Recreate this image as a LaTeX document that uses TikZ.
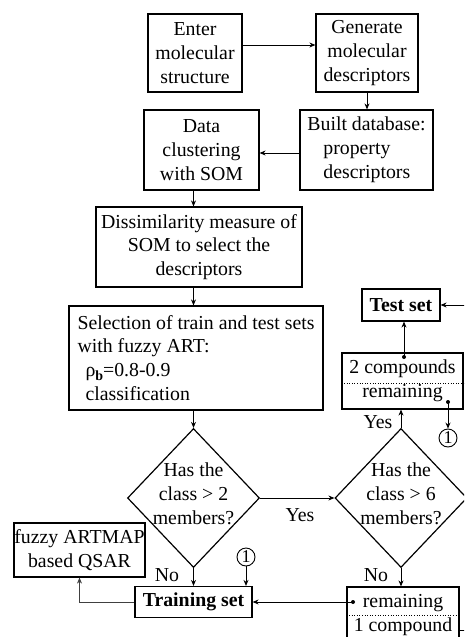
\documentclass[tikz,border=0pt]{standalone}
\usepackage{fontspec}
\setmainfont{Liberation Serif}
\usetikzlibrary{shapes.geometric,arrows.meta,calc}
\newcommand{\fsz}{\fontsize{19.8}{23.8}\selectfont}
\tikzset{
  box/.style={draw, line width=1.2pt, align=center, inner sep=0pt, font=\fsz},
  lbl/.style={inner sep=0pt, font=\fsz},
  dia/.style={draw, line width=1.2pt, diamond, inner sep=0pt, align=center, font=\fsz},
  circ/.style={draw, line width=0.9pt, circle, inner sep=0pt, minimum size=18pt, font=\fontsize{18}{18}\selectfont},
  arr/.style={line width=0.8pt, -{Stealth[length=6pt,width=5pt]}},
  ln/.style={line width=0.8pt},
  sep/.style={line width=0.6pt, dotted},
  dotp/.style={fill=black}
}
\begin{document}
\begin{tikzpicture}[x=1pt,y=-1pt]
\useasboundingbox (0,0) rectangle (464,637);
\fill[white] (0,0) rectangle (464,637);
\clip (0,0) rectangle (464,637);

\node[box, minimum width=94pt, minimum height=78pt] (enter) at (195,53) {Enter\\molecular\\structure};
\node[box, minimum width=102pt, minimum height=78pt] (gen) at (367,53) {Generate\\molecular\\descriptors};
\node[box, minimum width=133pt, minimum height=80pt, align=left] (built) at (366.5,150) {Built database:\\\hspace*{16pt}property\\\hspace*{16pt}descriptors};
\node[box, minimum width=115pt, minimum height=80pt] (data) at (201.5,150) {Data\\clustering\\with SOM};
\node[box, minimum width=206pt, minimum height=80pt] (dissim) at (199,247) {Dissimilarity measure of\\SOM to select the\\descriptors};
\node[box, minimum width=254pt, minimum height=104pt, align=left] (sel) at (196,358) {Selection of train and test sets\\with fuzzy ART:\\\hspace*{8pt}ρ\raisebox{-4pt}{\fontsize{14}{14}\selectfont\bfseries b}=0.8-0.9\\\hspace*{8pt}classification};
\node[box, minimum width=78pt, minimum height=32pt, font=\fsz\bfseries] (test) at (401,305) {Test set};
\node[box, minimum width=121pt, minimum height=56pt] (two) at (402.5,381) {2 compounds\\remaining};
\draw[sep] (two.west |- 0,383) -- (two.east |- 0,383);
\node[dia, minimum width=132pt, minimum height=139pt] (d1) at (193.5,498) {};
\node[lbl, align=center] (d1t) at (193.5,494) {Has the\\class > 2\\members?};
\node[dia, minimum width=132pt, minimum height=139pt] (d2) at (401,498) {};
\node[lbl, align=center] (d2t) at (401,494) {Has the\\class > 6\\members?};
\node[circ] (circA) at (448,438) {1};
\node[box, minimum width=131pt, minimum height=54pt] (fuzzy) at (79.5,550) {fuzzy ARTMAP\\based QSAR};
\node[circ] (circB) at (246,557) {1};
\node[box, minimum width=117pt, minimum height=31pt, font=\fsz\bfseries] (train) at (193.5,602) {Training set};
\node[box, minimum width=112pt, minimum height=56pt] (rem) at (403,615) {remaining\\1 compound};
\draw[sep] (rem.west |- 0,615) -- (rem.east |- 0,615);

% labels
\node[lbl] (yes1) at (300,515) {Yes};
\node[lbl] (no1) at (167,575) {No};
\node[lbl] (yes2) at (378,422) {Yes};
\node[lbl] (no2) at (376,575) {No};

% coordinates
\coordinate (twodot) at (404,357);
\coordinate (twodot2) at (448,402);
\coordinate (remdot) at (353,602);
\coordinate (edgeT) at (470,305);
\coordinate (edgeR) at (470,630);

% connectors
\draw[arr] ([yshift=8pt]enter.east) -- ([yshift=8pt]gen.west);
\draw[arr] (gen.south) -- (gen.south |- built.north);
\draw[arr] ([yshift=-3pt]built.west) -- ([yshift=-3pt]data.east);
\draw[arr] (data.south -| d1.north) -- (dissim.north -| d1.north);
\draw[arr] (dissim.south -| d1.north) -- (sel.north -| d1.north);
\draw[arr] (sel.south -| d1.north) -- (d1.north);
\draw[arr] (d1.east) -- (d2.west);
\draw[arr] (d1.south) -- (train.north -| d1.south);
\draw[arr] (circB.south) -- (circB.south |- train.north);
\draw[arr, black!75] (train.west) -| (fuzzy.south);
\draw[arr] (remdot) -- (train.east);
\draw[arr] (d2.south) -- (d2.south |- rem.north);
\draw[arr] (d2.north) -- (d2.north |- two.south);
\draw[arr] (twodot) -- (twodot |- test.south);
\draw[arr] (twodot2) -- (circA.north);
\draw[arr] (edgeT) -- (test.east);
\draw[ln] (rem.east |- edgeR) -- (edgeR);
\fill[dotp] (twodot) circle (2pt);
\fill[dotp] (twodot2) circle (2pt);
\fill[dotp] (remdot) circle (2pt);
\end{tikzpicture}
\end{document}
